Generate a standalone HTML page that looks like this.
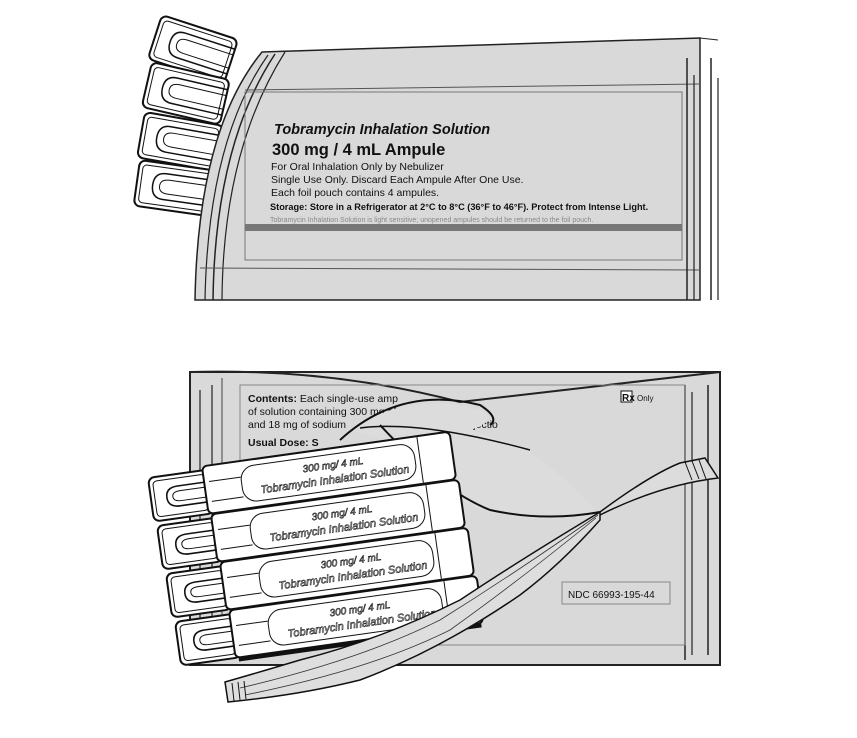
<!DOCTYPE html>
<html><head><style>
html,body{margin:0;padding:0;background:#fff;}
svg{display:block;font-family:"Liberation Sans",sans-serif;}
</style></head><body>
<svg width="857" height="738" viewBox="0 0 857 738" xmlns="http://www.w3.org/2000/svg">
<defs>
<g id="amptop">
  <rect x="0" y="0" width="80" height="46" rx="6" fill="#fff" stroke="#111" stroke-width="2"/>
  <rect x="4" y="4" width="72" height="38" rx="4" fill="none" stroke="#111" stroke-width="1"/>
  <path d="M80 10 L28 10 Q16 10 16 23 Q16 36 28 36 L80 36" fill="none" stroke="#111" stroke-width="1.5"/>
  <path d="M80 16 L32 16 Q23 16 23 23 Q23 30 32 30 L80 30" fill="none" stroke="#111" stroke-width="1"/>
</g>
<g id="amp">
  <rect x="0" y="0" width="60" height="44" rx="6" fill="#fff" stroke="#111" stroke-width="2"/>
  <rect x="4" y="4" width="52" height="36" rx="4" fill="none" stroke="#111" stroke-width="1"/>
  <path d="M70 12 L28 12 Q16 12 16 22 Q16 32 28 32 L70 32" fill="#fff" stroke="#111" stroke-width="1.6"/>
  <path d="M60 17 L30 17 Q22 17 22 22 Q22 27 30 27 L60 27" fill="none" stroke="#111" stroke-width="1"/>
  <rect x="55" y="-4" width="250" height="48" rx="5" fill="#fff" stroke="#111" stroke-width="2"/>
  <rect x="92" y="2" width="175" height="36" rx="14" fill="none" stroke="#111" stroke-width="1"/>
  <line x1="272" y1="-3" x2="272" y2="43" stroke="#111" stroke-width="1"/>
  <path d="M60 12 L92 12 M60 32 L92 32" stroke="#111" stroke-width="1"/>
  <text x="185" y="16" font-size="10" font-style="italic" fill="#fff" stroke="#222" stroke-width="0.6" text-anchor="middle">300 mg/ 4 mL</text>
  <text x="185" y="31" font-size="11" font-style="italic" fill="#fff" stroke="#222" stroke-width="0.6" text-anchor="middle">Tobramycin Inhalation Solution</text>
  <rect x="58" y="44" width="245" height="4" fill="#111"/>
</g>
</defs>

<!-- TOP AMPULES -->
<g transform="translate(162,15) rotate(18)"><use href="#amptop"/></g>
<g transform="translate(152,62) rotate(13)"><use href="#amptop"/></g>
<g transform="translate(145,112) rotate(10)"><use href="#amptop"/></g>
<g transform="translate(140,160) rotate(8)"><use href="#amptop"/></g>

<!-- TOP POUCH -->
<path d="M195 300 Q198 130 262 52 L700 38 L700 300 Z" fill="#d9d9d9" stroke="#222" stroke-width="1.5"/>
<path d="M205 300 Q208 140 268 55" fill="none" stroke="#222" stroke-width="1.2"/>
<path d="M213 300 Q215 145 275 54" fill="none" stroke="#222" stroke-width="1.5"/>
<path d="M222 300 Q223 150 285 52" fill="none" stroke="#222" stroke-width="1.2"/>
<line x1="245" y1="90" x2="700" y2="84" stroke="#555" stroke-width="1"/>
<line x1="200" y1="268" x2="700" y2="270" stroke="#555" stroke-width="1"/>
<line x1="687" y1="58" x2="687" y2="300" stroke="#222" stroke-width="1.5"/>
<line x1="694" y1="75" x2="694" y2="300" stroke="#222" stroke-width="1.2"/>
<line x1="711" y1="58" x2="711" y2="300" stroke="#222" stroke-width="1.5"/>
<line x1="718" y1="78" x2="718" y2="300" stroke="#222" stroke-width="1.2"/>
<path d="M700 38 L718 40" stroke="#222"/>
<rect x="245" y="92" width="437" height="168" fill="none" stroke="#777" stroke-width="1"/>
<rect x="245" y="224" width="437" height="7" fill="#777"/>
<text x="274" y="134" font-size="14.5" font-weight="bold" font-style="italic" fill="#111">Tobramycin Inhalation Solution</text>
<text x="272" y="155" font-size="16.5" font-weight="bold" fill="#111">300 mg / 4 mL Ampule</text>
<text x="271" y="170" font-size="10.5" fill="#111">For Oral Inhalation Only by Nebulizer</text>
<text x="271" y="183" font-size="10.5" fill="#111">Single Use Only. Discard Each Ampule After One Use.</text>
<text x="271" y="196" font-size="10.5" fill="#111">Each foil pouch contains 4 ampules.</text>
<text x="270" y="210" font-size="9.2" font-weight="bold" fill="#111">Storage: Store in a Refrigerator at 2°C to 8°C (36°F to 46°F). Protect from Intense Light.</text>
<text x="270" y="222" font-size="7" fill="#888">Tobramycin Inhalation Solution is light sensitive;  unopened ampules should be returned to the foil pouch.</text>

<!-- BOTTOM POUCH -->
<path d="M190 372 L720 372 L720 665 L190 665 Z" fill="#d9d9d9" stroke="#222" stroke-width="2"/>
<path d="M190 372 Q330 368 460 402 Q560 390 720 372" fill="none" stroke="#222" stroke-width="2"/>
<line x1="200" y1="390" x2="200" y2="650" stroke="#222" stroke-width="1.2"/>
<line x1="212" y1="385" x2="212" y2="655" stroke="#222" stroke-width="1.2"/>
<line x1="222" y1="378" x2="222" y2="660" stroke="#444" stroke-width="1"/>
<line x1="685" y1="385" x2="685" y2="660" stroke="#222" stroke-width="1.5"/>
<line x1="692" y1="392" x2="692" y2="655" stroke="#222" stroke-width="1.2"/>
<line x1="708" y1="385" x2="708" y2="655" stroke="#222" stroke-width="1.5"/>
<rect x="240" y="385" width="445" height="260" fill="none" stroke="#888" stroke-width="1"/>
<text x="248" y="402" font-size="10.5" fill="#111"><tspan font-weight="bold">Contents:</tspan> Each single-use amp</text>
<text x="248" y="415" font-size="10.5" fill="#111">of solution containing 300 mg of Tobr</text>
<text x="248" y="428" font-size="10.5" fill="#111">and 18 mg of sodium</text>
<text x="450" y="428" font-size="10.5" fill="#111">for injectio</text>
<text x="248" y="446" font-size="10.5" font-weight="bold" fill="#111">Usual Dose: S</text>
<rect x="621" y="391" width="11" height="11" fill="#fff" stroke="#111" stroke-width="1"/>
<text x="622" y="401" font-size="10" font-weight="bold" fill="#111">Rx</text>
<text x="637" y="401" font-size="8" fill="#111">Only</text>
<rect x="562" y="582" width="108" height="22" fill="none" stroke="#888" stroke-width="1"/>
<text x="568" y="598" font-size="10" fill="#111">NDC 66993-195-44</text>

<!-- top flap curl -->
<path d="M350 430 Q410 390 480 410 Q500 420 470 430 L520 446 Q560 470 600 515 Q540 525 480 510 Q420 480 385 440 Z" fill="#dcdcdc" stroke="none"/>
<path d="M340 440 Q400 385 480 405 Q500 418 490 425" fill="none" stroke="#111" stroke-width="2"/>
<path d="M360 428 Q420 420 530 450" fill="none" stroke="#111" stroke-width="1.5"/>
<path d="M380 425 Q440 490 490 510 Q545 522 600 512" fill="none" stroke="#111" stroke-width="2"/>
<path d="M600 512 Q650 475 680 463 L705 458 L718 478 Q660 485 600 515" fill="#dcdcdc" stroke="#111" stroke-width="1.5"/>
<line x1="685" y1="462" x2="692" y2="480" stroke="#111"/>
<line x1="692" y1="461" x2="699" y2="479" stroke="#111"/>
<line x1="699" y1="460" x2="706" y2="479" stroke="#111"/>

<!-- AMPULES -->
<g transform="translate(148,478) rotate(-8)"><use href="#amp"/></g>
<g transform="translate(157,526) rotate(-8)"><use href="#amp"/></g>
<g transform="translate(166,574) rotate(-8)"><use href="#amp"/></g>
<g transform="translate(175,622) rotate(-8)"><use href="#amp"/></g>

<!-- lower flap -->
<path d="M600 512 Q520 560 460 600 Q380 640 300 660 Q260 672 225 682 L228 702 Q300 695 360 680 Q440 650 520 595 Q560 565 600 520 Z" fill="#dedede" stroke="#111" stroke-width="1.5"/>
<path d="M598 515 Q520 570 440 620 Q360 660 240 688" fill="none" stroke="#333" stroke-width="0.8"/>
<path d="M596 518 Q520 580 450 630 Q370 670 245 695" fill="none" stroke="#333" stroke-width="0.8"/>
<line x1="232" y1="683" x2="234" y2="701" stroke="#111"/>
<line x1="238" y1="682" x2="240" y2="700" stroke="#111"/>
<line x1="244" y1="681" x2="246" y2="699" stroke="#111"/>
</svg>
</body></html>
